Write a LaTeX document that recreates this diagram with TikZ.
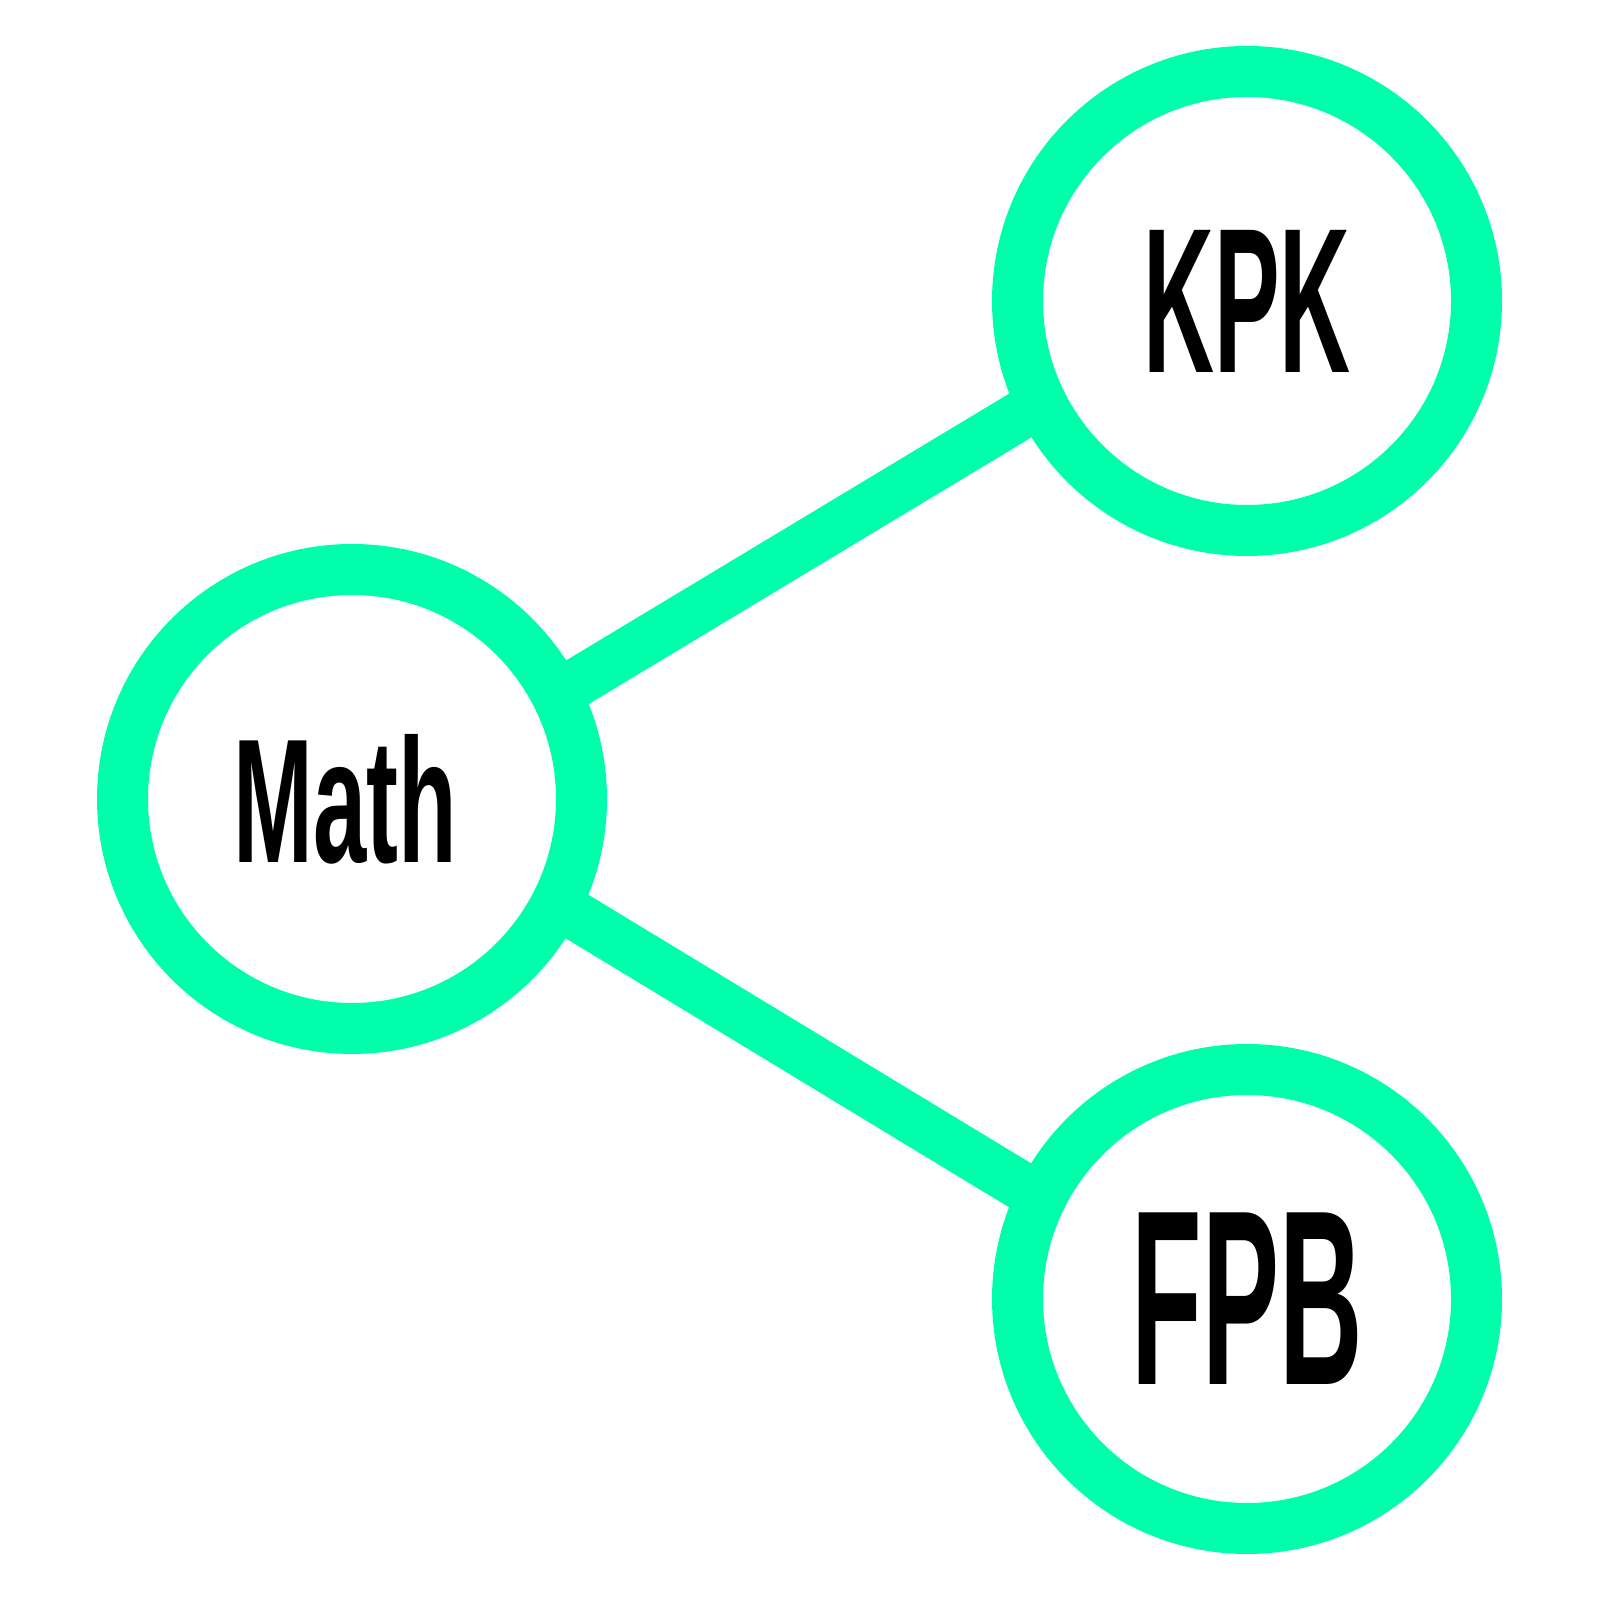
\documentclass[tikz,border=0pt]{standalone}
\usepackage{fontspec}
\setmainfont{Liberation Sans}
\usetikzlibrary{backgrounds}
\definecolor{RingClr}{RGB}{0,255,170}
\newcommand{\narrowtext}[3]{\fontsize{#1}{#1}\selectfont\bfseries\scalebox{#2}[1]{#3}}

\begin{document}
\begin{tikzpicture}[
  ring/.style={circle,draw=RingClr,line width=0.51cm,fill=white,
    minimum size=4.59cm,inner sep=0pt,outer sep=0pt},
  link/.style={draw=RingClr,line width=0.49cm}]
\useasboundingbox (0,0) rectangle (16,16);

\node[ring] (Math) at (3.52,8.01) {\narrowtext{50.3pt}{0.542}{Math}\kern0.14cm};
\node[ring] (KPK) at (12.47,12.99) {\narrowtext{58.8pt}{0.476}{KPK}};
\node[ring] (FPB) at (12.47,3.01) {\narrowtext{71pt}{0.463}{FPB}};

\begin{scope}[on background layer]
\draw[link] ([yshift=-0.19cm]Math.center) -- ([yshift=0.22cm]KPK.center);
\draw[link] ([yshift=0.19cm]Math.center) -- ([yshift=-0.24cm]FPB.center);
\end{scope}

\end{tikzpicture}
\end{document}
